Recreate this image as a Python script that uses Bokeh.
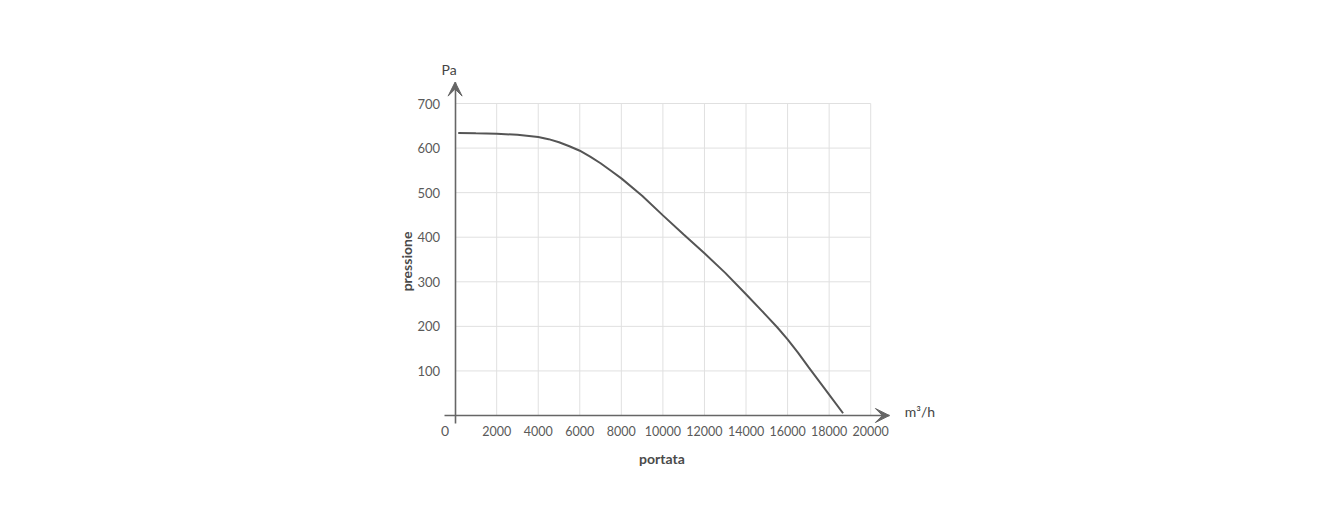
from bokeh.plotting import figure
from bokeh.models import Range1d, FixedTicker, Label, Arrow, VeeHead
from bokeh.embed import file_html
from bokeh.resources import INLINE

# data
flow = [150, 1000, 2000, 3000, 4000, 4500, 5000, 5500, 6000, 6500, 7000, 7500, 8000,
        9000, 10000, 11000, 12000, 13000, 14000, 15000, 15500, 16000, 16500, 17000,
        18000, 18670]
pressure = [634, 633, 632, 630, 625, 620, 613, 604, 594, 581, 566, 549, 532,
            493, 449, 406, 364, 320, 272, 223, 198, 171, 141, 109, 47, 5]
x_ticks = [2000, 4000, 6000, 8000, 10000, 12000, 14000, 16000, 18000, 20000]
y_ticks = [100, 200, 300, 400, 500, 600, 700]

FONT = "Lato"
TXT = "#5a5a5a"
AX = "#666666"
GRID = "#e0e0e0"

# scale: px per data unit
SX = 20.78 / 1000.0
SY = 312.0 / 700.0
ORIG_X = 454.6   # figure px of x = 0
ORIG_Y = 415.0   # figure px of y = 0
L, R, T, B = 380, 960, 40, 470
W, H = 1322, 514

x0 = -(ORIG_X - L) / SX
x1 = (R - ORIG_X) / SX
y1 = (ORIG_Y - T) / SY
y0 = -(B - ORIG_Y) / SY

p = figure(width=W, height=H, output_backend="svg", toolbar_location=None,
           x_range=Range1d(x0, x1), y_range=Range1d(y0, y1),
           min_border_left=L, min_border_right=W - R,
           min_border_top=T, min_border_bottom=H - B)

p.outline_line_color = None
p.background_fill_color = "white"
p.border_fill_color = "white"
p.xgrid.visible = False
p.ygrid.visible = False

# grid (from tick arrays)
xmax = max(x_ticks)
ymax = max(y_ticks)
p.segment(x0=x_ticks, y0=[0] * len(x_ticks), x1=x_ticks, y1=[ymax] * len(x_ticks),
          line_color=GRID, line_width=1)
p.segment(x0=[0] * len(y_ticks), y0=y_ticks, x1=[xmax] * len(y_ticks), y1=y_ticks,
          line_color=GRID, line_width=1)

x_end = 20900
y_end = 748

p.xaxis.ticker = FixedTicker(ticks=x_ticks)
p.yaxis.ticker = FixedTicker(ticks=y_ticks)
p.xaxis.fixed_location = 0
p.yaxis.fixed_location = 0
p.xaxis.bounds = (-510, x_end)
p.yaxis.bounds = (-18, y_end)
for ax in (p.xaxis, p.yaxis):
    ax.axis_line_color = AX
    ax.axis_line_width = 1.6
    ax.major_tick_line_color = None
    ax.minor_tick_line_color = None
    ax.major_label_text_font = FONT
    ax.major_label_text_color = TXT
p.xaxis.major_label_text_font_size = "12.5px"
p.yaxis.major_label_text_font_size = "13px"
p.xaxis.major_label_standoff = 4
p.yaxis.major_label_standoff = 9

# arrow heads
p.add_layout(Arrow(end=VeeHead(size=14, fill_color=AX, line_color=AX, line_width=1),
                   x_start=x_end - 400, y_start=0, x_end=x_end, y_end=0,
                   line_alpha=0))
p.add_layout(Arrow(end=VeeHead(size=14, fill_color=AX, line_color=AX, line_width=1),
                   x_start=0, y_start=y_end - 20, x_end=0, y_end=y_end,
                   line_alpha=0))

p.line(flow, pressure, line_color="#555555", line_width=2)

p.add_layout(Label(x=0, y=0, x_offset=-10, y_offset=-15, text="0",
                   text_font=FONT, text_font_size="14px", text_color=TXT,
                   text_align="center", text_baseline="middle"))
p.add_layout(Label(x=0, y=ymax, x_offset=-6, y_offset=34, text="Pa",
                   text_font=FONT, text_font_size="14px", text_color="#444444",
                   text_align="center", text_baseline="middle"))
p.add_layout(Label(x=xmax, y=0, x_offset=34, y_offset=4, text="m³/h",
                   text_font=FONT, text_font_size="14px", text_color="#444444",
                   text_align="left", text_baseline="middle"))
p.add_layout(Label(x=xmax / 2, y=0, x_offset=-1, y_offset=-43, text="portata",
                   text_font=FONT, text_font_size="14px", text_font_style="bold",
                   text_color="#4a4a4a", text_align="center", text_baseline="middle"))
p.add_layout(Label(x=0, y=ymax / 2, x_offset=-49, y_offset=-2, text="pressione",
                   angle=1.5708,
                   text_font=FONT, text_font_size="14px", text_font_style="bold",
                   text_color="#4a4a4a", text_align="center", text_baseline="middle"))

open("out.html", "w").write(file_html(p, INLINE))
